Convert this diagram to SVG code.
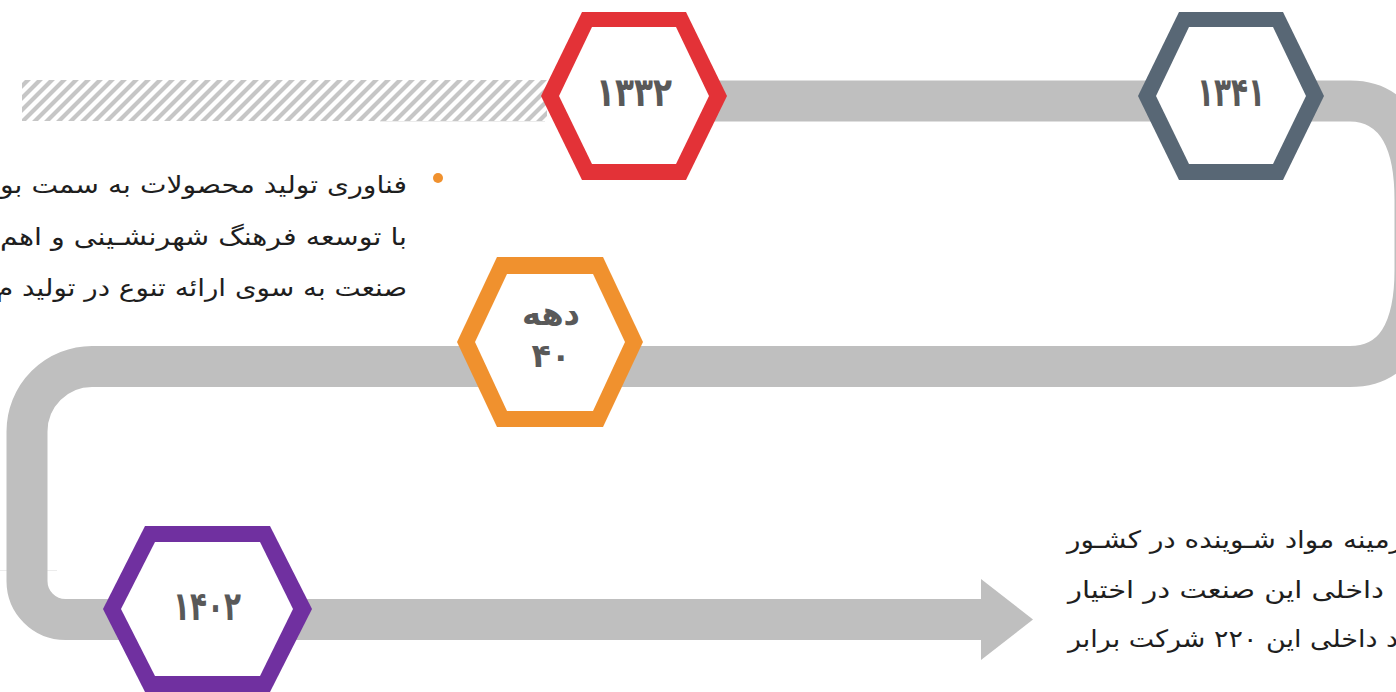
<svg xmlns="http://www.w3.org/2000/svg" width="1396" height="692" viewBox="0 0 1396 692">
  <defs>
    <pattern id="hatch" patternUnits="userSpaceOnUse" width="12" height="12">
      <path d="M-3,3 L3,-3 M0,12 L12,0 M9,15 L15,9" stroke="#c6c6c6" stroke-width="4.2"/>
    </pattern>
    <style>
      .band{fill:none;stroke:#bfbfbf;stroke-width:41}
      .inner{fill:#ffffff}
      .yr{font-family:"DejaVu Sans",sans-serif;font-weight:bold;font-size:40px;fill:#595959;text-anchor:middle}
      .dec{font-size:33px}
      .body{font-family:"DejaVu Sans",sans-serif;font-size:24px;fill:#1e1e1e}
      .faint{stroke:#ececec;stroke-width:1;fill:none}
    </style>
  </defs>
  <rect width="1396" height="692" fill="#ffffff"/>
  <rect x="22" y="80" width="525" height="41" fill="url(#hatch)"/>
  <path class="faint" d="M380 121.5 H545 M0 570.5 H57"/>
  <g id="connectors">
    <path class="band" d="M700 101 H1350 C1395 101 1415 140 1415 200 V270 C1415 330 1395 366.5 1350 366.5 H92 A65 65 0 0 0 27 431.5 V581 A38.5 38.5 0 0 0 65.5 619.5 H985"/>
    <polygon points="981,579 1033,619.5 981,660" fill="#bfbfbf"/>
  </g>
  <g id="node-1332">
    <polygon points="541,96 582,12 686,12 727,96 686,180 582,180" fill="#e33237"/>
    <polygon class="inner" points="559,96 592,27 676,27 709,96 676,164 592,164"/>
    <text class="yr" x="634" y="106" textLength="76" lengthAdjust="spacingAndGlyphs">۱۳۳۲</text>
  </g>
  <g id="node-1341">
    <polygon points="1138,96 1179,12 1283,12 1324,96 1283,180 1179,180" fill="#586775"/>
    <polygon class="inner" points="1156,96 1189,27 1273,27 1306,96 1273,164 1189,164"/>
    <text class="yr" x="1231" y="106" textLength="68" lengthAdjust="spacingAndGlyphs">۱۳۴۱</text>
  </g>
  <g id="node-decade40">
    <polygon points="457,342 497,257 603,257 643,342 603,427 497,427" fill="#f0912e"/>
    <polygon class="inner" points="475,342 507,274 593,274 625,342 593,411 507,411"/>
    <text class="yr dec" x="551" y="325" textLength="58" lengthAdjust="spacingAndGlyphs">دهه</text>
    <text class="yr dec" x="551" y="367" textLength="39" lengthAdjust="spacingAndGlyphs">۴۰</text>
  </g>
  <g id="node-1402">
    <polygon points="103,609 145,526 270,526 312,609 270,692 145,692" fill="#7030a0"/>
    <polygon class="inner" points="121,609 155,542 260,542 293,609 260,676 155,676"/>
    <text class="yr" x="207" y="620" textLength="68" lengthAdjust="spacingAndGlyphs">۱۴۰۲</text>
  </g>
  <g id="text-left">
    <circle cx="438" cy="178" r="5" fill="#f0912e"/>
    <text class="body" x="0" y="193" textLength="407" lengthAdjust="spacingAndGlyphs">فناوری تولید محصولات به سمت بو</text>
    <text class="body" x="0" y="245" textLength="407" lengthAdjust="spacingAndGlyphs">با توسعه فرهنگ شهرنشـینی و اهم</text>
    <text class="body" x="-4" y="296" textLength="411" lengthAdjust="spacingAndGlyphs">صنعت به سوی ارائه تنوع در تولید م</text>
  </g>
  <g id="text-right">
    <text class="body" x="1067" y="548" textLength="336" lengthAdjust="spacingAndGlyphs">زمینه مواد شـوینده در کشـور</text>
    <text class="body" x="1068" y="598" textLength="316" lengthAdjust="spacingAndGlyphs">داخلی این صنعت در اختیار</text>
    <text class="body" x="1068" y="647" textLength="330" lengthAdjust="spacingAndGlyphs">د داخلی این ۲۲۰ شرکت برابر</text>
  </g>
</svg>
